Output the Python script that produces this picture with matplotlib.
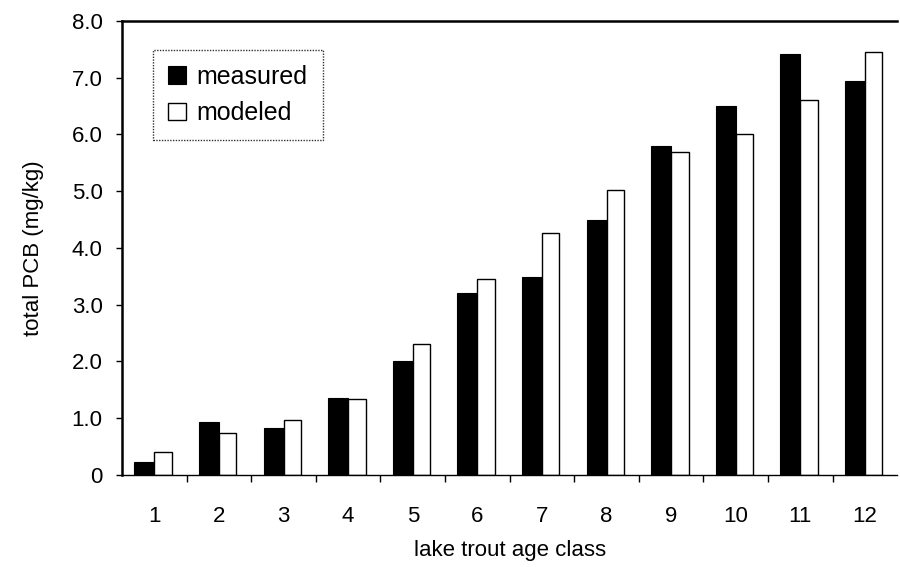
import numpy as np
import matplotlib
matplotlib.use("Agg")
import matplotlib.pyplot as plt

age_class = [1, 2, 3, 4, 5, 6, 7, 8, 9, 10, 11, 12]
measured = [0.22, 0.93, 0.83, 1.36, 2.0, 3.2, 3.49, 4.49, 5.79, 6.51, 7.41, 6.94]
modeled = [0.41, 0.745, 0.97, 1.33, 2.31, 3.45, 4.26, 5.02, 5.69, 6.0, 6.61, 7.45]
yticks = [0, 1, 2, 3, 4, 5, 6, 7, 8]
ytick_labels = ["0", "1.0", "2.0", "3.0", "4.0", "5.0", "6.0", "7.0", "8.0"]

plt.rcParams['font.family'] = ['Liberation Sans', 'DejaVu Sans']

fig = plt.figure(figsize=(9, 5.67), dpi=100)
ax = fig.add_axes([0.1356, 0.1623, 0.8614, 0.8007])

x = np.array(age_class)
w = 0.31
ax.bar(x - w/2, measured, w, color='black', edgecolor='black', linewidth=0.8, label='measured')
ax.bar(x + w/2 - 0.02, modeled, w - 0.04, color='white', edgecolor='black', linewidth=1.0, label='modeled')

ax.set_xlim(0.5, 12.5)
ax.set_ylim(0, 8.0)
ax.set_yticks(yticks)
ax.set_yticklabels(ytick_labels)
ax.set_xticks(age_class)
ax.set_xticks(np.arange(1.5, 12.5, 1.0), minor=True)
ax.tick_params(axis='x', which='major', length=0, pad=22, labelsize=16)
ax.tick_params(axis='x', which='minor', length=5, direction='out', width=1)
ax.tick_params(axis='y', length=4, direction='out', width=1, labelsize=16, pad=10)

ax.spines['right'].set_visible(False)
ax.spines['top'].set_linewidth(1.8)
ax.spines['left'].set_linewidth(1.8)
ax.spines['bottom'].set_linewidth(1.0)

ax.set_xlabel("lake trout age class", fontsize=16, labelpad=10)
ax.set_ylabel("total PCB (mg/kg)", fontsize=16, labelpad=20)

leg = ax.legend(loc='upper left', bbox_to_anchor=(0.04, 0.937), borderaxespad=0,
                fontsize=18, frameon=True, fancybox=False,
                handlelength=0.7, handleheight=0.7, handletextpad=0.45,
                borderpad=0.6, labelspacing=0.5)
leg.get_frame().set_edgecolor('black')
leg.get_frame().set_linestyle((0, (1, 1)))
leg.get_frame().set_linewidth(1.0)

fig.savefig("out.png", dpi=100)
